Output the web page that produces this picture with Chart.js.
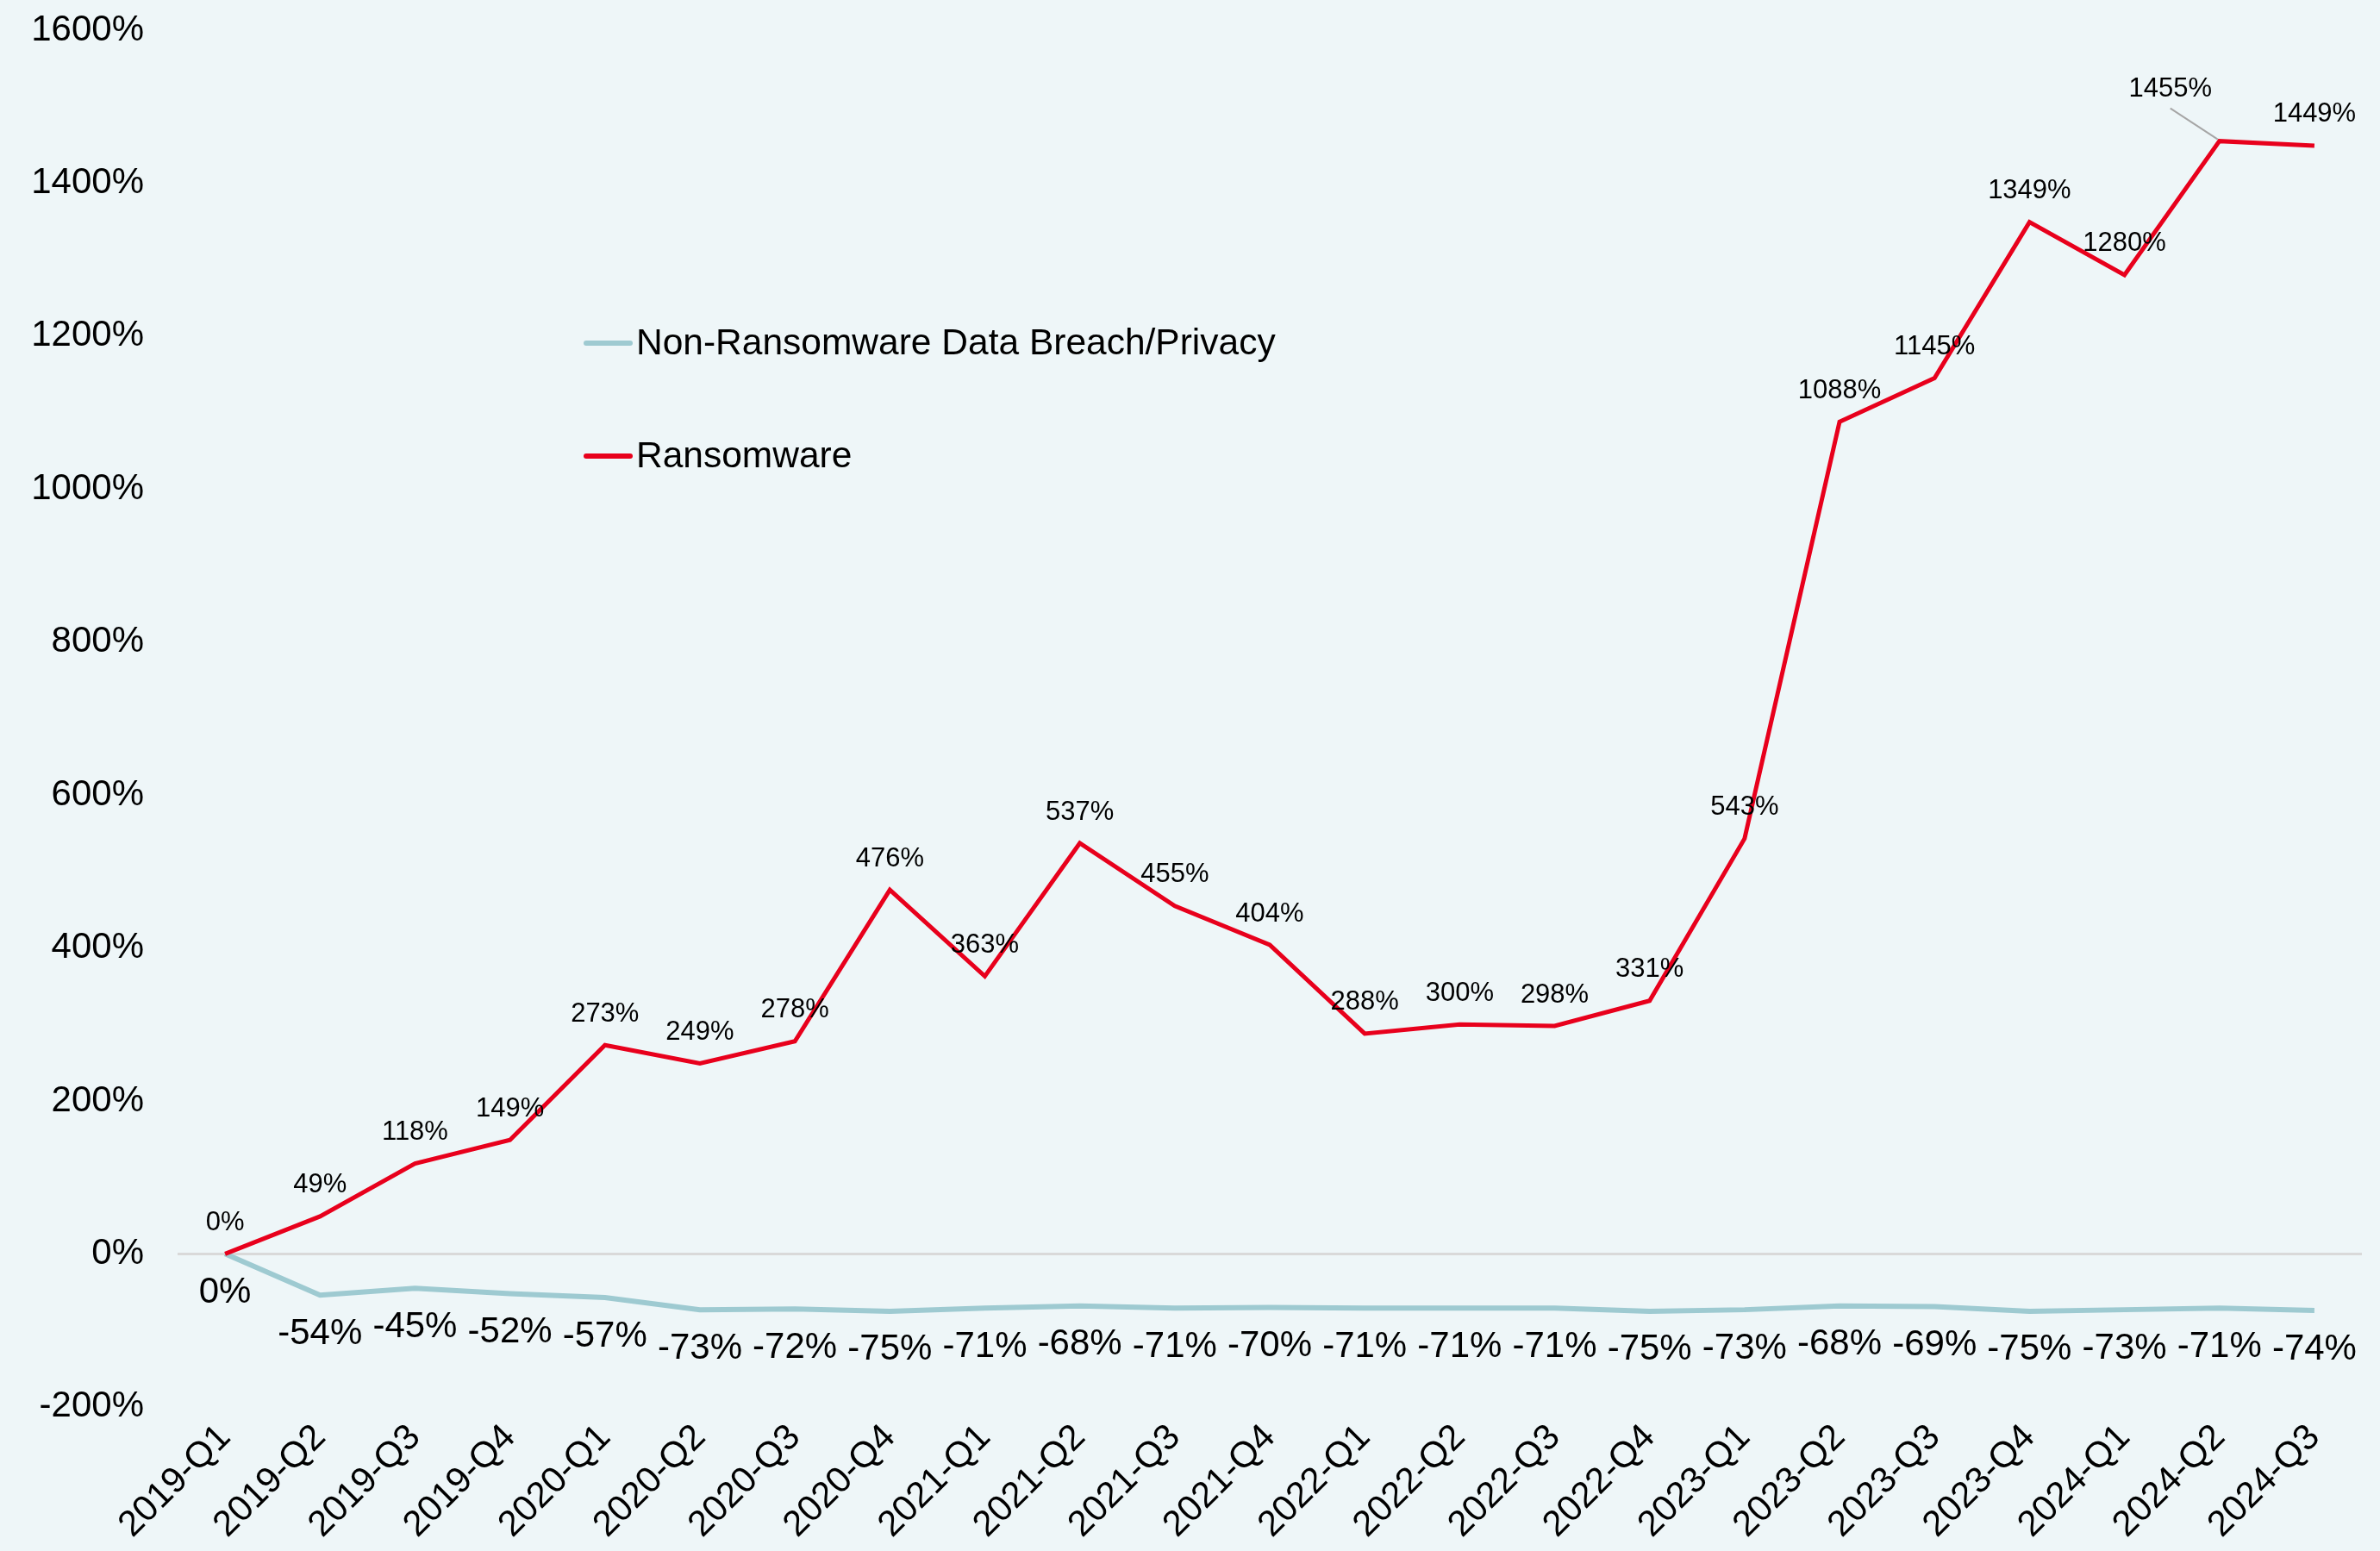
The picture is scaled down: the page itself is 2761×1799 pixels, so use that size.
<!DOCTYPE html>
<html>
<head>
<meta charset="utf-8">
<script src="https://cdn.jsdelivr.net/npm/chart.js@4.4.1/dist/chart.umd.min.js"></script>
<style>
    html, body { margin: 0; padding: 0; background: #EEF6F8; }
    #wrap { width: 2761px; height: 1799px; }
</style>
</head>
<body>
<div id="wrap"><canvas id="claims_line" width="2761" height="1799"></canvas></div>
<script>
// quarters on the x axis
var quarters = ['2019-Q1', '2019-Q2', '2019-Q3', '2019-Q4',
    '2020-Q1', '2020-Q2', '2020-Q3', '2020-Q4',
    '2021-Q1', '2021-Q2', '2021-Q3', '2021-Q4',
    '2022-Q1', '2022-Q2', '2022-Q3', '2022-Q4',
    '2023-Q1', '2023-Q2', '2023-Q3', '2023-Q4',
    '2024-Q1', '2024-Q2', '2024-Q3'];

// % change against 2019-Q1
var nonRansomware = [0, -54, -45, -52, -57, -73, -72, -75, -71, -68, -71, -70,
    -71, -71, -71, -75, -73, -68, -69, -75, -73, -71, -74];
var ransomware = [0, 49, 118, 149, 273, 249, 278, 476, 363, 537, 455, 404,
    288, 300, 298, 331, 543, 1088, 1145, 1349, 1280, 1455, 1449];

var yTicks = { min: -200, max: 1600, step: 200 };

var FONT = '"Liberation Sans", Arial, sans-serif';

// draws the value labels next to each point
var valueLabels = {
    id: 'valueLabels',
    afterDatasetsDraw: function (chart) {
        var ctx = chart.ctx;
        ctx.save();
        chart.data.datasets.forEach(function (ds, i) {
            var meta = chart.getDatasetMeta(i);
            ctx.font = ds.labelSize + 'px ' + FONT;
            ctx.fillStyle = '#000';
            ctx.textAlign = 'center';
            ctx.textBaseline = 'middle';
            meta.data.forEach(function (pt, j) {
                var x = pt.x;
                var y = pt.y + ds.labelOffset;
                var nudge = ds.labelNudge && ds.labelNudge[j];
                if (nudge) {
                    x += nudge.dx;
                    y += nudge.dy;
                    // leader line back to the point
                    ctx.strokeStyle = '#A6A6A6';
                    ctx.lineWidth = 2;
                    ctx.beginPath();
                    ctx.moveTo(x, y + 22);
                    ctx.lineTo(pt.x - 2, pt.y - 2);
                    ctx.stroke();
                }
                ctx.fillText(ds.data[j] + '%', x, y);
            });
        });
        ctx.restore();
    }
};

// legend floating inside the plot
var floatLegend = {
    id: 'floatLegend',
    afterDraw: function (chart) {
        var ctx = chart.ctx;
        var rows = [0, 1];
        ctx.save();
        ctx.font = '42.5px ' + FONT;
        ctx.textBaseline = 'middle';
        ctx.textAlign = 'left';
        rows.forEach(function (i) {
            var ds = chart.data.datasets[i];
            var y = 398 + i * 131;
            ctx.strokeStyle = ds.borderColor;
            ctx.lineWidth = 6;
            ctx.lineCap = 'round';
            ctx.beginPath();
            ctx.moveTo(680, y);
            ctx.lineTo(731, y);
            ctx.stroke();
            ctx.fillStyle = '#000';
            ctx.fillText(ds.label, 738, y + 1);
        });
        ctx.restore();
    }
};

var ctxLine = document.getElementById('claims_line').getContext('2d');

new Chart(ctxLine, {
    type: 'line',
    data: {
        labels: quarters,
        datasets: [
            {
                label: 'Non-Ransomware Data Breach/Privacy',
                data: nonRansomware,
                borderColor: '#9ECAD1',
                borderWidth: 6,
                pointRadius: 0,
                tension: 0,
                order: 2,
                labelSize: 42,
                labelOffset: 45
            },
            {
                label: 'Ransomware',
                data: ransomware,
                borderColor: '#E8001C',
                borderWidth: 5,
                pointRadius: 0,
                tension: 0,
                order: 1,
                labelSize: 31,
                labelOffset: -36,
                labelNudge: { 21: { dx: -57, dy: -24 } }
            }
        ]
    },
    plugins: [valueLabels, floatLegend],
    options: {
        responsive: false,
        devicePixelRatio: 1,
        animation: false,
        layout: {
            padding: { top: 35, left: 36, right: 21, bottom: 2 }
        },
        plugins: {
            legend: { display: false },
            tooltip: { enabled: false }
        },
        scales: {
            x: {
                offset: true,
                grid: { display: false },
                border: { display: false },
                // rotated labels may hang left of the plot, don't let them push it
                afterFit: function (scale) {
                    scale.paddingLeft = 0;
                    scale.paddingRight = 0;
                },
                ticks: {
                    minRotation: 45,
                    maxRotation: 45,
                    autoSkip: false,
                    color: '#000',
                    font: { family: FONT, size: 42 }
                }
            },
            y: {
                min: yTicks.min,
                max: yTicks.max,
                border: { display: false },
                afterFit: function (scale) {
                    scale.paddingTop = 0;
                    scale.paddingBottom = 0;
                    scale.width = 170;
                },
                grid: {
                    drawTicks: false,
                    lineWidth: 3,
                    color: function (c) {
                        return c.tick && c.tick.value === 0 ? '#D9D9D9' : 'rgba(0,0,0,0)';
                    }
                },
                ticks: {
                    stepSize: yTicks.step,
                    padding: 39,
                    color: '#000',
                    font: { family: FONT, size: 42 },
                    callback: function (v) { return v + '%'; }
                }
            }
        }
    }
});
</script>
</body>
</html>
